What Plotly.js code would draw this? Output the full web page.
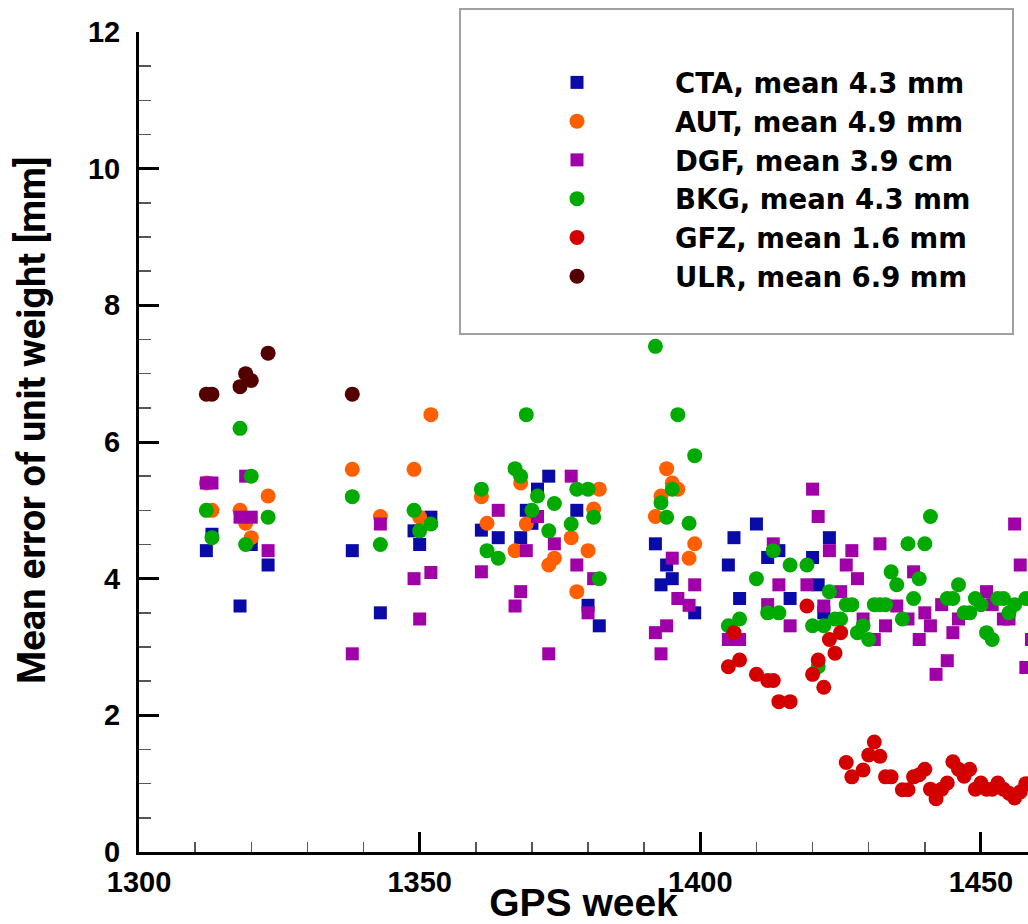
<!DOCTYPE html>
<html>
<head>
<meta charset="utf-8">
<script src="https://cdn.plot.ly/plotly-3.0.1.min.js"></script>
<style>html,body{margin:0;padding:0;background:#fff;}#chart{width:1028px;height:924px;}</style>
</head>
<body>
<div id="chart"></div>
<script>
// ---- Data (GPS week, mean error of unit weight) ----
const ctaWeek = [1312,1313,1318,1320,1323,1338,1343,1349,1350,1352,1361,1364,1368,1369,1370,1371,1373,1378,1380,1382,1392,1393,1394,1395,1399,1405,1406,1407,1410,1412,1414,1416,1420,1421,1422,1423];
const ctaVal  = [4.41,4.65,3.6,4.5,4.2,4.41,3.5,4.7,4.5,4.9,4.71,4.6,4.6,5.0,4.81,5.31,5.5,5.0,3.61,3.31,4.51,3.91,4.2,4.0,3.5,4.2,4.6,3.71,4.8,4.31,4.41,3.71,4.31,3.91,3.5,4.6];

const autWeek = [1312,1313,1318,1319,1320,1323,1338,1343,1349,1350,1352,1361,1362,1367,1368,1369,1373,1374,1377,1378,1380,1381,1382,1392,1393,1394,1395,1396,1398,1399];
const autVal  = [5.4,5.0,5.0,4.81,4.6,5.21,5.6,4.91,5.6,4.9,6.4,5.2,4.81,4.41,5.4,4.8,4.2,4.3,4.6,3.81,4.41,5.02,5.31,4.91,5.21,5.61,5.4,5.31,4.3,4.51];

const dgfWeek = [1312,1313,1318,1319,1320,1323,1338,1343,1349,1350,1352,1361,1364,1367,1368,1369,1371,1373,1374,1377,1378,1380,1381,1392,1393,1394,1395,1396,1398,1399,1405,1407,1412,1413,1414,1416,1419,1420,1421,1422,1423,1425,1426,1427,1428,1429,1431,1432,1433,1435,1437,1438,1439,1440,1441,1442,1443,1444,1445,1446,1451,1452,1454,1455,1456,1457,1458,1459];
const dgfVal  = [5.4,5.4,4.9,5.5,4.9,4.41,2.9,4.8,4.0,3.41,4.09,4.1,5.0,3.6,3.81,4.41,4.91,2.9,4.51,5.5,4.2,3.5,4.0,3.21,2.9,3.31,4.3,3.71,3.61,3.91,3.11,3.11,3.62,4.51,3.91,3.31,3.91,5.31,4.91,3.6,4.41,3.81,4.2,4.41,4.0,3.41,3.11,4.51,3.31,3.6,3.41,4.1,3.11,3.5,3.31,2.6,3.62,2.8,3.21,3.41,3.81,3.62,3.41,3.41,4.8,4.2,2.7,3.11];

const bkgWeek = [1312,1313,1318,1319,1320,1323,1338,1343,1349,1350,1352,1361,1362,1364,1367,1368,1369,1370,1371,1373,1374,1377,1378,1380,1381,1382,1392,1393,1394,1395,1396,1398,1399,1405,1407,1410,1412,1413,1414,1416,1419,1420,1421,1422,1423,1424,1425,1426,1427,1428,1429,1430,1431,1432,1433,1434,1435,1436,1437,1438,1439,1440,1441,1444,1445,1446,1447,1448,1449,1450,1451,1452,1453,1454,1455,1456,1458];
const bkgVal  = [5.0,4.6,6.2,4.5,5.5,4.9,5.2,4.5,5.0,4.7,4.8,5.31,4.41,4.3,5.61,5.5,6.4,5.0,5.21,4.7,5.1,4.8,5.31,5.31,4.9,4.0,7.4,5.11,4.9,5.31,6.4,4.81,5.8,3.31,3.41,4.0,3.5,4.41,3.5,4.2,4.2,3.31,2.71,3.31,3.81,3.41,3.41,3.62,3.62,3.21,3.31,3.11,3.62,3.62,3.62,4.1,3.91,3.41,4.51,3.71,4.0,4.51,4.91,3.71,3.71,3.91,3.5,3.5,3.71,3.62,3.21,3.11,3.71,3.71,3.5,3.62,3.71];

const gfzWeek = [1405,1406,1407,1410,1412,1413,1414,1416,1419,1420,1421,1422,1423,1424,1425,1426,1427,1429,1430,1431,1432,1433,1434,1436,1437,1438,1439,1440,1441,1442,1443,1444,1445,1446,1447,1448,1449,1450,1451,1452,1453,1454,1455,1456,1457,1458];
const gfzVal  = [2.71,3.21,2.81,2.6,2.51,2.51,2.2,2.2,3.6,2.6,2.81,2.41,3.11,2.91,3.21,1.31,1.10,1.20,1.42,1.61,1.40,1.10,1.10,0.91,0.91,1.10,1.13,1.21,0.92,0.78,0.92,1.01,1.32,1.21,1.11,1.21,0.92,1.01,0.92,0.92,1.01,0.92,0.86,0.79,0.88,1.0];

const ulrWeek = [1312,1313,1318,1319,1320,1323,1338];
const ulrVal  = [6.7,6.7,6.81,7.0,6.9,7.3,6.7];

const seriesNames = ['CTA, mean 4.3 mm','AUT, mean 4.9 mm','DGF, mean 3.9 cm','BKG, mean 4.3 mm','GFZ, mean 1.6 mm','ULR, mean 6.9 mm'];
const xTicks = [1300,1350,1400,1450];
const yTicks = [0,2,4,6,8,10,12];
const xTitle = 'GPS week';
const yTitle = 'Mean error of unit weight [mm]';

const FONT = 'Liberation Sans, Arial, Helvetica, sans-serif';
const LEGFONT = 'DejaVu Sans, Liberation Sans, sans-serif';
const YTFONT = 'Roboto, Liberation Sans, sans-serif';

function tr(x, y, name, color, symbol, size) {
  return {
    type: 'scatter', mode: 'markers', x: x, y: y, name: name,
    marker: {color: color, symbol: symbol, size: size, line: {width: 0}},
    cliponaxis: true
  };
}

const data = [
  tr(ctaWeek, ctaVal, seriesNames[0], '#0a0aa8', 'square', 13),
  tr(autWeek, autVal, seriesNames[1], '#ff5f00', 'circle', 15),
  tr(dgfWeek, dgfVal, seriesNames[2], '#a000a8', 'square', 13),
  tr(bkgWeek, bkgVal, seriesNames[3], '#00aa00', 'circle', 15),
  tr(gfzWeek, gfzVal, seriesNames[4], '#d40000', 'circle', 15),
  tr(ulrWeek, ulrVal, seriesNames[5], '#550000', 'circle', 15)
];

const L = 139, W = 1028, T = 32, B = 852;
const pw = W - L, ph = B - T;
function px2paperX(p) { return (p - L) / pw; }
function px2paperY(p) { return (B - p) / ph; }

const layout = {
  width: 1028, height: 924,
  margin: {l: L, r: 0, t: T, b: 924 - B, pad: 0},
  paper_bgcolor: '#ffffff', plot_bgcolor: '#ffffff',
  font: {family: FONT, color: '#000', size: 28, weight: 'bold'},
  showlegend: true,
  legend: {
    x: px2paperX(479), y: px2paperY(58), xanchor: 'left', yanchor: 'top',
    bgcolor: 'rgba(0,0,0,0)', borderwidth: 0,
    itemwidth: 186,
    font: {family: LEGFONT, size: 27.5, color: '#000', weight: 'bold'}
  },
  xaxis: {
    range: [1300, 1300 + (W - L) / 5.613],
    tickvals: xTicks, ticktext: xTicks.map(String),
    ticks: 'inside', ticklen: 20, tickwidth: 3, tickcolor: '#000',
    showline: true, linewidth: 3, linecolor: '#000',
    showgrid: false, zeroline: false,
    tickfont: {family: FONT, size: 29, color: '#000', weight: 'bold'},
    ticklabelstandoff: 2,
    minor: {ticks: 'inside', dtick: 10, tick0: 1300, ticklen: 10, tickwidth: 1.5, tickcolor: '#555', showgrid: false},
    title: {text: xTitle, font: {family: FONT, size: 39, color: '#000', weight: 'bold'}, standoff: 6}
  },
  yaxis: {
    range: [0, 12],
    tickvals: yTicks, ticktext: yTicks.map(String),
    ticks: 'inside', ticklen: 20, tickwidth: 3, tickcolor: '#000',
    showline: true, linewidth: 3, linecolor: '#000',
    showgrid: false, zeroline: false,
    tickfont: {family: FONT, size: 29, color: '#000', weight: 'bold'},
    ticklabelstandoff: 10,
    minor: {ticks: 'inside', dtick: 0.5, tick0: 0, ticklen: 12, tickwidth: 1.5, tickcolor: '#555', showgrid: false}
  },
  annotations: [{
    text: yTitle, textangle: -90, showarrow: false,
    xref: 'paper', yref: 'paper', x: px2paperX(32), y: px2paperY(420),
    xanchor: 'center', yanchor: 'middle',
    font: {family: YTFONT, size: 38, color: '#000', weight: 'bold'}
  }],
  shapes: [{
    type: 'rect', xref: 'paper', yref: 'paper',
    x0: px2paperX(460), x1: px2paperX(1013), y0: px2paperY(334), y1: px2paperY(9),
    line: {color: '#a0a0a0', width: 2}, fillcolor: 'rgba(0,0,0,0)', layer: 'below'
  }]
};

Plotly.newPlot('chart', data, layout, {displayModeBar: false, staticPlot: true});
</script>
</body>
</html>
